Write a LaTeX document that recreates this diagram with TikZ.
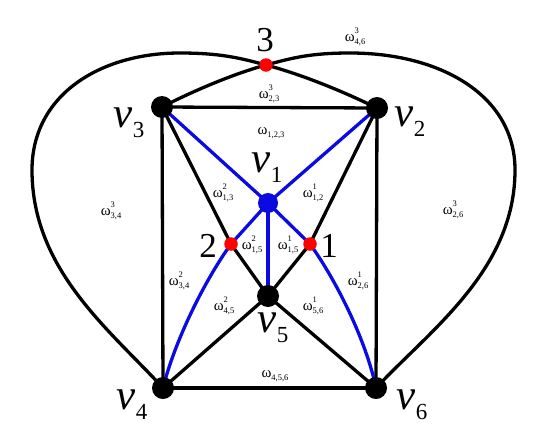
\documentclass[tikz,border=0pt]{standalone}
\usepackage{fontspec}
\setmainfont{Liberation Serif}
\usetikzlibrary{backgrounds}
\newcommand\wlab[2]{{\fontsize{15}{15}\selectfont ω}\rlap{\raisebox{7.5pt}{\fontsize{8.5}{8.5}\selectfont #1}}\raisebox{-3.5pt}{\fontsize{8.5}{8.5}\selectfont #2}}
\newcommand\vlab[1]{{\fontsize{43}{43}\selectfont\itshape v}\raisebox{-10pt}{\fontsize{23}{23}\selectfont #1}}
\definecolor{eblue}{RGB}{10,10,225}
\tikzset{
  bdot/.style={circle,fill=black,draw=none,minimum size=22pt,inner sep=0pt},
  udot/.style={circle,fill=eblue,draw=none,minimum size=20pt,inner sep=0pt},
  rdot/.style={circle,fill=red,draw=none,minimum size=13.5pt,inner sep=0pt},
  lab/.style={inner sep=0pt,anchor=center},
  num/.style={inner sep=0pt,anchor=center,font=\fontsize{35}{35}\selectfont},
  bedge/.style={draw=black,line width=3.3pt},
  uedge/.style={draw=eblue,line width=3.3pt}
}
\begin{document}
\begin{tikzpicture}[x=1pt,y=-1pt]
\useasboundingbox (0,0) rectangle (537,442);
% vertices
\node[bdot] (v3) at (162,107) {};
\node[bdot] (v2) at (377,108) {};
\node[udot] (v1) at (268,203) {};
\node[bdot] (v5) at (268,296) {};
\node[bdot] (v4) at (163,388) {};
\node[bdot] (v6) at (376,388) {};
\node[rdot] (p3) at (266,65) {};
\node[rdot] (p2) at (231,244) {};
\node[rdot] (p1) at (310,244) {};
\begin{pgfonlayer}{background}
% black edges
\draw[bedge] (v3.center) -- (v2.center);
\draw[bedge] (v3.center) -- (v4.center);
\draw[bedge] (v2.center) -- (v6.center);
\draw[bedge] (v4.center) -- (v6.center);
\draw[bedge] (v3.center) -- (p2.center) -- (v5.center);
\draw[bedge] (v2.center) -- (p1.center) -- (v5.center);
\draw[bedge] (v4.center) -- (v5.center);
\draw[bedge] (v6.center) -- (v5.center);
% outer loops
\draw[bedge] (v4.center) .. controls (110,330) and (32,270) .. (32,170)
  .. controls (32,95) and (100,53) .. (180,53)
  .. controls (220,53) and (240,58) .. (p3.center)
  .. controls (300,74) and (340,90) .. (v2.center);
\draw[bedge] (v6.center) .. controls (430,330) and (515,270) .. (515,170)
  .. controls (515,95) and (440,53) .. (350,53)
  .. controls (310,53) and (292,58) .. (p3.center)
  .. controls (236,73) and (195,90) .. (v3.center);
% blue edges
\draw[uedge] (v1.center) -- (v3.center);
\draw[uedge] (v1.center) -- (v2.center);
\draw[uedge] (v1.center) -- (v5.center);
\draw[uedge] (v1.center) -- (p2.center) .. controls (205,280) and (175,340) .. (v4.center);
\draw[uedge] (v1.center) -- (p1.center) .. controls (336,280) and (366,340) .. (v6.center);
\end{pgfonlayer}
% vertex labels
\node[lab] (l1) at (267,168) {\vlab{1}};
\node[lab] (l2) at (410,122) {\vlab{2}};
\node[lab] (l3) at (129,123) {\vlab{3}};
\node[lab] (l4) at (132,405) {\vlab{4}};
\node[lab] (l5) at (273,328) {\vlab{5}};
\node[lab] (l6) at (412,405) {\vlab{6}};
% crossing labels
\node[num] (n3) at (265,40) {3};
\node[num] (n2) at (208,246) {2};
\node[num] (n1) at (329,246) {1};
% face labels
\node[lab] (w346) at (355,37) {\wlab{3}{4,6}};
\node[lab] (w323) at (269,94) {\wlab{3}{2,3}};
\node[lab] (w123) at (271,133) {\wlab{}{1,2,3}};
\node[lab] (w213) at (223,193) {\wlab{2}{1,3}};
\node[lab] (w112) at (313,193) {\wlab{1}{1,2}};
\node[lab] (w215) at (252,245) {\wlab{2}{1,5}};
\node[lab] (w115) at (288,245) {\wlab{1}{1,5}};
\node[lab] (w234) at (179,281) {\wlab{2}{3,4}};
\node[lab] (w126) at (358,281) {\wlab{1}{2,6}};
\node[lab] (w245) at (224,306) {\wlab{2}{4,5}};
\node[lab] (w156) at (313,306) {\wlab{1}{5,6}};
\node[lab] (w456) at (275,376) {\wlab{}{4,5,6}};
\node[lab] (w334) at (111,211) {\wlab{3}{3,4}};
\node[lab] (w326) at (453,210) {\wlab{3}{2,6}};
\end{tikzpicture}
\end{document}
